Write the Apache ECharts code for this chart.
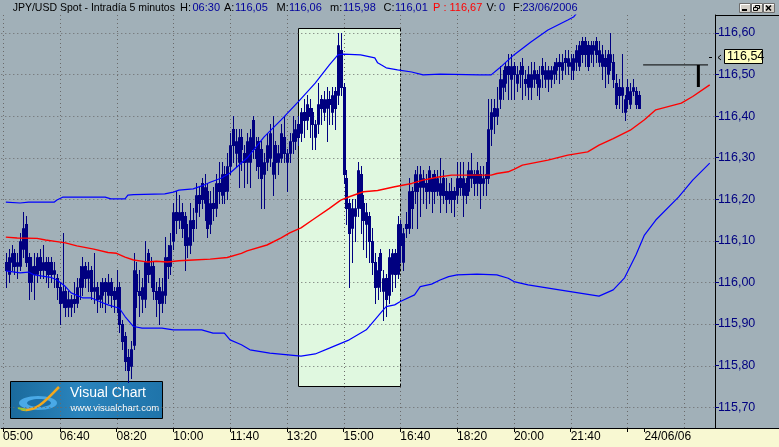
<!DOCTYPE html>
<html><head><meta charset="utf-8">
<script src="https://cdn.jsdelivr.net/npm/echarts@6/dist/echarts.min.js"></script>
<style>html,body{margin:0;padding:0;background:#a1b0b8}#c{width:779px;height:447px}</style>
</head><body><div id="c"></div>
<script>
// ---------------- DATA ----------------
const sessionStartMinutes = 300;   // 05:00
const barMinutes = 5;              // bar i (0-based) is at (i+1)*5 minutes after 05:00
const opens = [
116.05,116.02,116.05,116.07,116.04,116.04,116.08,116.14,116.06,116.00,
116.04,116.02,116.06,116.03,116.05,116.05,116.05,116.02,116.01,115.99,
115.95,115.98,115.94,115.94,115.96,115.95,115.99,115.99,116.04,116.01,
116.03,115.98,115.99,115.96,115.97,116.00,115.97,116.00,115.98,115.96,
115.99,115.90,115.87,115.82,115.80,115.85,116.02,115.98,115.96,115.96,
116.07,116.02,116.04,115.98,115.99,115.95,115.97,116.06,116.04,116.10,
116.17,116.15,116.17,116.16,116.09,116.09,116.15,116.17,116.21,116.24,
116.19,116.22,116.14,116.19,116.18,116.24,116.21,116.26,116.22,116.28,
116.37,116.31,116.29,116.35,116.31,116.29,116.29,116.39,116.32,116.34,
116.32,116.26,116.29,116.30,116.26,116.33,116.29,116.30,116.35,116.29,
116.31,116.34,116.34,116.38,116.36,116.41,116.39,116.42,116.41,116.35,
116.38,116.44,116.41,116.42,116.44,116.41,116.46,116.45,116.56,116.47,
116.25,116.19,116.13,116.16,116.18,116.26,116.19,116.14,116.16,116.10,
116.05,115.99,116.07,115.98,116.01,115.97,116.02,116.07,116.02,116.14,
116.05,116.14,116.13,116.22,116.22,116.24,116.23,116.23,116.24,116.22,
116.25,116.26,116.22,116.21,116.25,116.22,116.20,116.22,116.22,116.21,
116.25,116.21,116.24,116.22,116.25,116.26,116.24,116.26,116.24,116.26,
116.25,116.37,116.42,116.40,116.44,116.47,116.48,116.52,116.49,116.52,
116.48,116.50,116.52,116.49,116.47,116.47,116.49,116.50,116.47,116.52,
116.49,116.49,116.49,116.50,116.51,116.53,116.51,116.54,116.52,116.52,
116.51,116.53,116.52,116.58,116.58,116.57,116.55,116.56,116.58,116.53,
116.52,116.54,116.50,116.53,116.53,116.48,116.47,116.45,116.41,116.47,
116.43,116.46,116.46,116.45];
const closes = [
116.03,116.06,116.07,116.04,116.05,116.10,116.13,116.05,116.00,116.04,
116.02,116.06,116.03,116.05,116.03,116.02,116.02,116.03,115.99,115.95,
115.98,115.94,115.96,115.96,115.95,115.99,116.01,116.04,116.01,116.03,
115.98,115.99,115.96,115.97,116.00,115.98,116.00,115.97,115.96,115.99,
115.90,115.86,115.81,115.79,115.84,116.03,115.98,115.97,115.99,116.05,
116.02,116.04,115.98,115.96,115.95,115.98,116.06,116.04,116.09,116.17,
116.15,116.17,116.13,116.09,116.11,116.15,116.13,116.21,116.19,116.20,
116.23,116.13,116.19,116.18,116.24,116.22,116.26,116.22,116.28,116.33,
116.33,116.34,116.35,116.32,116.29,116.34,116.35,116.32,116.30,116.28,
116.25,116.29,116.33,116.36,116.29,116.29,116.31,116.36,116.31,116.31,
116.34,116.36,116.37,116.35,116.41,116.39,116.43,116.40,116.38,116.38,
116.43,116.42,116.44,116.44,116.43,116.45,116.42,116.57,116.47,116.26,
116.18,116.12,116.18,116.18,116.27,116.18,116.15,116.17,116.10,116.05,
115.99,116.03,116.03,116.01,115.96,116.06,116.07,116.02,116.14,116.09,
116.12,116.13,116.22,116.18,116.26,116.22,116.26,116.25,116.22,116.27,
116.22,116.22,116.25,116.24,116.21,116.20,116.22,116.20,116.20,116.25,
116.23,116.25,116.21,116.27,116.27,116.24,116.27,116.24,116.25,116.25,
116.37,116.41,116.40,116.42,116.49,116.49,116.52,116.50,116.52,116.50,
116.50,116.51,116.50,116.48,116.50,116.50,116.51,116.48,116.49,116.50,
116.51,116.51,116.51,116.52,116.53,116.52,116.53,116.53,116.54,116.53,
116.54,116.56,116.57,116.55,116.55,116.52,116.57,116.57,116.55,116.56,
116.55,116.52,116.55,116.55,116.49,116.43,116.45,116.47,116.44,116.44,
116.46,116.47,116.43,116.42];
const lows = [
115.99,116.00,116.03,116.02,116.01,116.03,116.06,116.04,115.96,115.98,
115.96,116.00,116.01,116.01,116.00,115.99,116.00,115.99,115.96,115.90,
115.94,115.92,115.92,115.92,115.93,115.94,115.96,115.97,115.99,115.98,
115.96,115.95,115.93,115.94,115.94,115.93,115.95,115.94,115.93,115.93,
115.88,115.84,115.79,115.76,115.77,115.84,115.94,115.92,115.93,115.94,
116.00,115.99,115.96,115.92,115.90,115.93,115.95,116.01,116.02,116.08,
116.12,116.13,116.11,116.03,116.06,116.07,116.10,116.13,116.16,116.18,
116.15,116.11,116.12,116.15,116.16,116.19,116.19,116.19,116.20,116.26,
116.29,116.28,116.23,116.27,116.23,116.24,116.23,116.30,116.27,116.25,
116.18,116.18,116.27,116.28,116.21,116.25,116.26,116.29,116.29,116.22,
116.29,116.31,116.32,116.33,116.34,116.35,116.37,116.35,116.32,116.32,
116.36,116.38,116.39,116.34,116.38,116.38,116.37,116.43,116.45,116.24,
116.14,115.99,116.05,116.10,116.16,116.12,116.08,116.06,116.05,116.02,
115.95,115.96,115.98,115.91,115.92,115.95,115.98,115.99,116.01,116.05,
116.03,116.11,116.12,116.13,116.19,116.13,116.16,116.19,116.18,116.19,
116.17,116.19,116.21,116.17,116.19,116.17,116.19,116.17,116.16,116.19,
116.21,116.16,116.19,116.21,116.23,116.21,116.21,116.18,116.21,116.21,
116.24,116.33,116.36,116.38,116.42,116.44,116.46,116.44,116.44,116.44,
116.46,116.47,116.44,116.45,116.44,116.44,116.47,116.45,116.44,116.47,
116.47,116.46,116.47,116.48,116.49,116.48,116.49,116.50,116.50,116.49,
116.49,116.51,116.51,116.53,116.52,116.51,116.53,116.52,116.53,116.52,
116.49,116.47,116.48,116.51,116.47,116.42,116.42,116.41,116.39,116.42,
116.42,116.45,116.42,116.42];
const highs = [
116.07,116.08,116.09,116.08,116.07,116.12,116.17,116.16,116.07,116.06,
116.07,116.07,116.08,116.09,116.06,116.06,116.06,116.05,116.02,116.00,
116.12,115.99,115.98,115.97,116.00,116.01,116.04,116.06,116.05,116.05,
116.04,116.07,116.00,116.00,116.01,116.01,116.02,116.01,115.99,116.03,
116.00,115.91,115.88,115.84,115.86,116.07,116.05,116.03,116.01,116.10,
116.08,116.06,116.05,116.00,116.01,116.01,116.11,116.09,116.12,116.19,
116.22,116.21,116.19,116.17,116.14,116.19,116.18,116.24,116.23,116.25,
116.26,116.24,116.22,116.23,116.26,116.29,116.29,116.28,116.31,116.36,
116.40,116.37,116.37,116.37,116.33,116.36,116.37,116.40,116.35,116.35,
116.34,116.31,116.36,116.38,116.40,116.34,116.33,116.38,116.40,116.32,
116.36,116.40,116.39,116.40,116.42,116.44,116.45,116.44,116.42,116.39,
116.48,116.45,116.46,116.47,116.46,116.47,116.47,116.60,116.60,116.48,
116.27,116.20,116.20,116.20,116.29,116.28,116.21,116.19,116.17,116.13,
116.07,116.06,116.08,116.03,116.02,116.08,116.08,116.08,116.16,116.15,
116.13,116.17,116.25,116.23,116.27,116.28,116.28,116.27,116.26,116.28,
116.26,116.27,116.27,116.30,116.27,116.25,116.24,116.25,116.23,116.29,
116.29,116.29,116.25,116.29,116.31,116.27,116.29,116.28,116.28,116.29,
116.44,116.44,116.44,116.47,116.52,116.51,116.53,116.55,116.55,116.53,
116.52,116.53,116.54,116.51,116.52,116.53,116.53,116.51,116.52,116.54,
116.53,116.52,116.52,116.53,116.54,116.55,116.55,116.56,116.56,116.55,
116.55,116.57,116.58,116.59,116.59,116.58,116.58,116.58,116.59,116.58,
116.57,116.56,116.56,116.60,116.55,116.50,116.49,116.55,116.45,116.49,
116.48,116.49,116.47,116.46];

// Bollinger bands (minutes after 05:00, price)
const upperT = [5,30,45,90,95,105,180,190,215,220,230,285,300,310,335,350,365,385,400,430,460,490,520,550,575,590,600,630,655,660,675,695,720,740,770,840,860,875,900,930,960,995,1005,1030];
const upperV = [116.193,116.191,116.193,116.193,116.198,116.205,116.205,116.201,116.201,116.210,116.211,116.213,116.217,116.222,116.225,116.232,116.241,116.251,116.263,116.299,116.350,116.391,116.434,116.479,116.523,116.547,116.549,116.547,116.540,116.528,116.516,116.511,116.506,116.499,116.501,116.499,116.499,116.516,116.547,116.578,116.607,116.631,116.638,116.68];
const midT = [5,25,60,75,95,110,130,160,185,200,215,230,250,255,270,290,310,335,365,395,420,430,465,490,505,525,545,575,595,610,635,660,690,720,740,765,790,860,870,890,900,915,960,995,1030,1050,1075,1105,1130,1150,1195,1215,1245];
const midV = [116.109,116.107,116.106,116.102,116.098,116.095,116.088,116.080,116.072,116.070,116.061,116.054,116.050,116.049,116.051,116.049,116.052,116.054,116.056,116.060,116.070,116.076,116.090,116.107,116.119,116.131,116.150,116.178,116.198,116.206,116.218,116.221,116.230,116.238,116.246,116.253,116.258,116.258,116.262,116.266,116.272,116.282,116.294,116.306,116.314,116.330,116.346,116.366,116.391,116.415,116.431,116.447,116.475];
const lowerT = [5,30,45,55,75,85,95,110,120,140,155,170,185,205,215,230,245,280,300,350,370,390,400,420,435,470,525,550,575,610,640,655,665,675,690,700,725,735,755,770,785,800,835,870,890,900,925,980,1050,1075,1095,1115,1130,1150,1190,1215,1245];
const lowerV = [116.028,116.023,116.025,116.018,116.014,116.012,116.006,115.990,115.975,115.963,115.963,115.954,115.946,115.938,115.918,115.894,115.890,115.890,115.886,115.886,115.878,115.878,115.862,115.850,115.838,115.830,115.823,115.828,115.842,115.862,115.886,115.910,115.926,115.942,115.946,115.954,115.970,115.990,115.996,116.006,116.014,116.018,116.020,116.018,116.010,116.002,115.994,115.982,115.967,115.982,116.011,116.066,116.114,116.150,116.205,116.246,116.287];

// axis ticks
const priceTicks = [115.70,115.80,115.90,116.00,116.10,116.20,116.30,116.40,116.50,116.60];
const timeTicks = [0,100,200,300,400,500,600,700,800,900,1000,1100];
const timeGrid = [0,100,200,300,400,500,600,700,800,900,1000,1100,1200];
const dayTick = 1130;
const dayLabel = '24/06/06';
const timeLabelTicks = [0,100,200,300,400,500,600,700,800,900,1000];

// annotations (minutes, price)
const highlightBox = [520.5, 699.1, 115.751, 116.611];
const refLine = [[1127.7, 116.523], [1242, 116.523]];
const refBar = [[1225, 116.523], [1225, 116.470]];
const lastPriceLabel = '116,54';

// header
const headerParts = [
  ['JPY/USD Spot - Intradía 5 minutos', 'k'], ['H:', 'k'], ['06:30', 'v'], ['A:', 'k'], ['116,05', 'v'],
  ['M:', 'k'], ['116,06', 'v'], ['m:', 'k'], ['115,98', 'v'], ['C:', 'k'], ['116,01', 'v'],
  ['P : 116,67', 'r'], ['V:', 'k'], ['0', 'v'], ['F:', 'k'], ['23/06/2006', 'v']];
const headerX = [12.7, 180, 192.5, 224, 235, 276.5, 289, 330, 343, 383.5, 395, 433, 486.5, 499, 513, 522.5];

// ---------------- CHART ----------------
const X_MIN = -3, X_MAX = 1254.3, Y_MIN = 115.65, Y_MAX = 116.643;
const NAVY = '#000080';
const FONT = 'Liberation Sans, Arial, sans-serif';
const bars = opens.map((o, i) => [(i + 1) * barMinutes, o, closes[i], lows[i], highs[i]]);
const zip = (a, b) => a.map((v, i) => [v, b[i]]);
function hhmm(v) {
  const m = sessionStartMinutes + v;
  const h = Math.floor(m / 60), mm = m % 60;
  return String(h).padStart(2, '0') + ':' + String(mm).padStart(2, '0');
}

const chart = echarts.init(document.getElementById('c'), null, {renderer: 'canvas'});
const colorOf = {k: '#000', v: '#00009c', r: '#ff0000'};
const graphics = [];
graphics.push({type: 'rect', z: -1, silent: true, shape: {x: 0, y: 429, width: 779, height: 18}, style: {fill: '#f8f8d2'}});
graphics.push({type: 'line', z: 10, silent: true, shape: {x1: 715, y1: 428.5, x2: 779, y2: 428.5}, style: {stroke: '#000', lineWidth: 1}});
graphics.push({type: 'line', z: 10, silent: true, shape: {x1: 715, y1: 15.5, x2: 779, y2: 15.5}, style: {stroke: '#000', lineWidth: 1}});
headerParts.forEach((p, i) => graphics.push({type: 'text', z: 10, silent: true, x: headerX[i], y: 8,
  style: {text: p[0], fill: colorOf[p[1]], font: (i === 0 ? '10.5px ' : '11px ') + FONT, verticalAlign: 'middle', align: 'left'}}));
// window buttons
[739, 751, 763].forEach((bx) => {
  graphics.push({type: 'rect', z: 10, silent: true, shape: {x: bx + 0.5, y: 3.5, width: 11, height: 9}, style: {fill: '#d4d0c8', stroke: '#6d6d6d', lineWidth: 1}});
  graphics.push({type: 'polyline', z: 11, silent: true, shape: {points: [[bx + 1.5, 11], [bx + 1.5, 4.5], [bx + 11, 4.5]]}, style: {stroke: '#fff', lineWidth: 1, fill: null}});
});
graphics.push({type: 'rect', z: 12, silent: true, shape: {x: 742, y: 9, width: 5, height: 2}, style: {fill: '#000'}});
graphics.push({type: 'rect', z: 12, silent: true, shape: {x: 755.5, y: 5.5, width: 4, height: 3}, style: {fill: null, stroke: '#000', lineWidth: 1}});
graphics.push({type: 'rect', z: 12, silent: true, shape: {x: 753.5, y: 7.5, width: 4, height: 3}, style: {fill: '#d4d0c8', stroke: '#000', lineWidth: 1}});
graphics.push({type: 'line', z: 12, silent: true, shape: {x1: 766, y1: 5.5, x2: 771, y2: 10.5}, style: {stroke: '#000', lineWidth: 1.5}});
graphics.push({type: 'line', z: 12, silent: true, shape: {x1: 771, y1: 5.5, x2: 766, y2: 10.5}, style: {stroke: '#000', lineWidth: 1.5}});
// last price label
graphics.push({type: 'line', z: 10, silent: true, shape: {x1: 709, y1: 57.5, x2: 712, y2: 57.5}, style: {stroke: '#000', lineWidth: 1}});
graphics.push({type: 'polyline', z: 10, silent: true, shape: {points: [[721, 55], [718, 57.5], [721, 60]]}, style: {stroke: '#000', lineWidth: 1, fill: null}});
graphics.push({type: 'rect', z: 10, silent: true, shape: {x: 724.5, y: 49.5, width: 38, height: 14}, style: {fill: '#ffffc0', stroke: '#000', lineWidth: 1}});
graphics.push({type: 'text', z: 11, silent: true, x: 727, y: 57, style: {text: lastPriceLabel, fill: '#000', font: '12.5px ' + FONT, verticalAlign: 'middle'}});
// logo
graphics.push({type: 'group', z: 20, silent: true, children: [
  {type: 'rect', shape: {x: 10.5, y: 381.5, width: 152, height: 37}, style: {stroke: '#000', lineWidth: 1,
    fill: {type: 'linear', x: 0, y: 0, x2: 1, y2: 0, colorStops: [{offset: 0, color: '#1a6a9c'}, {offset: 0.45, color: '#2a84bd'}, {offset: 1, color: '#1f74aa'}]}}},
  {type: 'ellipse', shape: {cx: 38, cy: 403, rx: 19, ry: 7}, style: {fill: '#4aa9e6'}},
  {type: 'ellipse', shape: {cx: 39, cy: 403, rx: 12, ry: 4}, style: {fill: '#1c6fa8'}},
  {type: 'bezierCurve', shape: {x1: 21, y1: 409, x2: 59, y2: 387, cpx1: 36, cpy1: 414, cpx2: 49, cpy2: 397}, style: {stroke: '#f2a81e', lineWidth: 2.5, fill: null}},
  {type: 'line', shape: {x1: 18, y1: 408, x2: 26, y2: 410}, style: {stroke: '#8cc63f', lineWidth: 2}},
  {type: 'text', x: 70, y: 393, style: {text: 'Visual Chart', fill: '#fff', font: '14px ' + FONT, verticalAlign: 'middle'}},
  {type: 'text', x: 70.5, y: 408, style: {text: 'www.visualchart.com', fill: '#fff', font: '9.5px ' + FONT, verticalAlign: 'middle'}}
]});

function gridItem(params, api) {
  const cs = params.coordSys;
  const dir = api.value(0), v = api.value(1);
  const style = {stroke: '#6a6a6a', lineWidth: 1, lineDash: [1, 3]};
  if (dir === 0) {
    const y = Math.round(api.coord([0, v])[1]) + 0.5;
    return {type: 'line', shape: {x1: cs.x, y1: y, x2: cs.x + cs.width, y2: y}, style};
  }
  const x = Math.round(api.coord([v, Y_MIN])[0]) + 0.5;
  return {type: 'line', shape: {x1: x, y1: cs.y, x2: x, y2: cs.y + cs.height}, style};
}
const gridData = priceTicks.map(v => [0, v]).concat(timeGrid.map(v => [1, v]));

// pixel-snapped candles (hollow = up, filled = down)
function candleItem(params, api) {
  const t = api.value(0), o = api.value(1), c = api.value(2), l = api.value(3), h = api.value(4);
  const x = Math.round(api.coord([t, o])[0]);
  const yo = Math.round(api.coord([t, o])[1]), yc = Math.round(api.coord([t, c])[1]);
  const yl = Math.round(api.coord([t, l])[1]), yh = Math.round(api.coord([t, h])[1]);
  const top = Math.min(yo, yc), bot = Math.max(yo, yc);
  const children = [{type: 'line', shape: {x1: x + 0.5, y1: yh, x2: x + 0.5, y2: yl + 1}, style: {stroke: NAVY, lineWidth: 1}}];
  if (c >= o) {
    children.push({type: 'rect', shape: {x: x - 0.5, y: top + 0.5, width: 2, height: Math.max(0, bot - top)}, style: {fill: null, stroke: NAVY, lineWidth: 1}});
  } else {
    children.push({type: 'rect', shape: {x: x - 1, y: top, width: 3, height: Math.max(1, bot - top + 1)}, style: {fill: NAVY}});
  }
  return {type: 'group', children};
}

chart.setOption({
  animation: false,
  backgroundColor: '#a1b0b8',
  grid: {left: 0, right: 64, top: 15, bottom: 19, show: false},
  xAxis: {type: 'value', min: X_MIN, max: X_MAX,
    axisLine: {show: true, onZero: false, lineStyle: {color: '#000', width: 1}},
    axisTick: {show: true, customValues: timeTicks.concat([dayTick]), length: 4, lineStyle: {color: '#000'}},
    axisLabel: {customValues: timeLabelTicks.concat([dayTick]), formatter: v => v === dayTick ? dayLabel : hhmm(v),
      align: 'left', margin: 3, color: '#000', fontSize: 12, fontFamily: FONT},
    splitLine: {show: false}},
  yAxis: {type: 'value', position: 'right', min: Y_MIN, max: Y_MAX, scale: true,
    axisLine: {show: true, onZero: false, lineStyle: {color: '#000', width: 1}},
    axisTick: {show: true, customValues: priceTicks, length: 4, lineStyle: {color: NAVY}},
    axisLabel: {customValues: priceTicks, formatter: v => v.toFixed(2).replace('.', ','), color: NAVY, fontSize: 12.5, fontFamily: FONT, margin: 3},
    splitLine: {show: false}},
  graphic: graphics,
  series: [
    {type: 'custom', z: 1, silent: true, clip: true, data: [highlightBox], encode: {x: [0, 1], y: [2, 3]},
      renderItem(params, api) {
        const a = api.coord([api.value(0), api.value(3)]);
        const b = api.coord([api.value(1), api.value(2)]);
        const x0 = Math.round(a[0]) + 0.5, y0 = Math.round(a[1]) + 0.5, x1 = Math.round(b[0]) + 0.5, y1 = Math.round(b[1]) + 0.5;
        return {type: 'group', children: [
          {type: 'rect', shape: {x: x0, y: y0, width: x1 - x0, height: y1 - y0}, style: {fill: '#e0f8e0'}},
          {type: 'polyline', shape: {points: [[x1, y0], [x0, y0], [x0, y1], [x1, y1]]}, style: {stroke: '#000', lineWidth: 1, fill: null}},
          {type: 'line', shape: {x1: x1, y1: y0, x2: x1, y2: y1}, style: {stroke: '#000', lineWidth: 1, lineDash: [3, 2]}}
        ]};
      }},
    {type: 'custom', z: 2, silent: true, data: gridData, encode: {y: 1}, renderItem: gridItem},
    {type: 'custom', z: 3, silent: true, clip: true, data: bars, encode: {x: 0, y: [1, 2, 3, 4]}, renderItem: candleItem},
    {type: 'line', z: 4, silent: true, data: zip(upperT, upperV), symbol: 'none', lineStyle: {color: '#0000ff', width: 1.2}},
    {type: 'line', z: 4, silent: true, data: zip(midT, midV), symbol: 'none', lineStyle: {color: '#ff0000', width: 1.4}},
    {type: 'line', z: 4, silent: true, data: zip(lowerT, lowerV), symbol: 'none', lineStyle: {color: '#0000ff', width: 1.2}},
    {type: 'line', z: 5, silent: true, data: refLine, symbol: 'none', lineStyle: {color: '#000', width: 1}},
    {type: 'line', z: 5, silent: true, data: refBar, symbol: 'none', lineStyle: {color: '#000', width: 3}}
  ]
});
</script></body></html>
